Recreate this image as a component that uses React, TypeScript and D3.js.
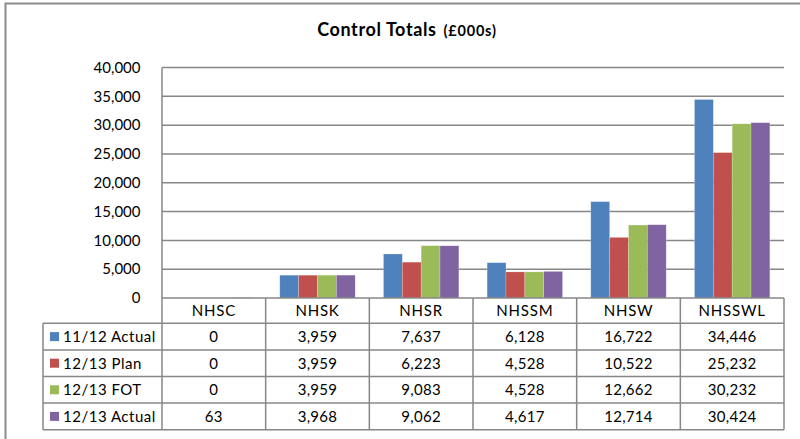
import React from 'react';
import * as d3 from 'd3';

const categories = ['NHSC', 'NHSK', 'NHSR', 'NHSSM', 'NHSW', 'NHSSWL'];
const seriesNames = ['11/12 Actual', '12/13 Plan', '12/13 FOT', '12/13 Actual'];
const actual1112 = [0, 3959, 7637, 6128, 16722, 34446];
const plan1213 = [0, 3959, 6223, 4528, 10522, 25232];
const fot1213 = [0, 3959, 9083, 4528, 12662, 30232];
const actual1213 = [63, 3968, 9062, 4617, 12714, 30424];
const yTicks = [0, 5000, 10000, 15000, 20000, 25000, 30000, 35000, 40000];
const colors = ['#4F81BD', '#C0504D', '#9BBB59', '#8064A2'];

const seriesValues = [actual1112, plan1213, fot1213, actual1213];

const W = 800;
const H = 439;
const plot = { left: 162, right: 784, top: 67.5, bottom: 298 };
const tableLeft = 43;
const headerBottom = 323.3;
const rowH = 26.6;
const font = 'Lato, "Open Sans", sans-serif';
const gridColor = '#878787';

export default function App() {
  const x = d3.scaleBand<string>().domain(categories).range([plot.left, plot.right]);
  // Excel style gap width 150%
  const xInner = d3
    .scaleBand<number>()
    .domain(d3.range(seriesNames.length))
    .range([0, x.bandwidth()])
    .paddingInner(0)
    .paddingOuter(0.75);
  const y = d3.scaleLinear().domain([0, 40000]).range([plot.bottom, plot.top]);
  const fmt = d3.format(',');

  const rowY = (i: number) => headerBottom + i * rowH;
  const tableBottom = rowY(seriesNames.length);

  return (
    <svg
      width={W}
      height={H}
      style={{ position: 'absolute', left: 0, top: 0, display: 'block', background: '#fff' }}
    >
      {/* chart frame, cropped on right and bottom */}
      <rect x={5.5} y={3.5} width={W + 10} height={H + 10} fill="#fff" stroke="#8c8c8c" strokeWidth={2} />

      <text x={407} y={36} textAnchor="middle" fontFamily={font} fontWeight="bold" fill="#000">
        <tspan fontSize={18} letterSpacing={0.6}>Control Totals</tspan>
        <tspan fontSize={14.5} dx={7} letterSpacing={0.8}>(£000s)</tspan>
      </text>

      {/* gridlines */}
      {yTicks.map((t) => (
        <g key={t}>
          {t > 0 && (
            <line x1={plot.left} x2={plot.right} y1={y(t)} y2={y(t)} stroke={gridColor} strokeWidth={1.5} />
          )}
          <text
            x={140.5}
            y={y(t)}
            dy="0.35em"
            textAnchor="end"
            fontFamily={font}
            fontSize={15}
            fill="#000"
          >
            {fmt(t)}
          </text>
        </g>
      ))}
      <line x1={plot.left} x2={plot.left} y1={plot.top} y2={plot.bottom} stroke={gridColor} strokeWidth={1.5} />

      {/* bars */}
      {categories.map((c, ci) => (
        <g key={c} transform={`translate(${x(c)},0)`}>
          {seriesValues.map((vals, si) => (
            <rect
              key={si}
              x={xInner(si)}
              y={y(vals[ci])}
              width={xInner.bandwidth()}
              height={plot.bottom - y(vals[ci])}
              fill={colors[si]}
              stroke="#ffffff"
              strokeOpacity={0.35}
              strokeWidth={0.6}
            />
          ))}
        </g>
      ))}

      {/* data table */}
      <g stroke={gridColor} strokeWidth={1.5} fill="none">
        <line x1={plot.left} x2={plot.right} y1={plot.bottom} y2={plot.bottom} />
        {d3.range(seriesNames.length + 1).map((i) => (
          <line key={i} x1={tableLeft} x2={plot.right} y1={rowY(i)} y2={rowY(i)} />
        ))}
        <line x1={tableLeft} x2={tableLeft} y1={headerBottom} y2={tableBottom} />
        {categories.map((c) => (
          <line key={c} x1={x(c)} x2={x(c)} y1={plot.bottom} y2={tableBottom} />
        ))}
        <line x1={plot.right} x2={plot.right} y1={plot.bottom} y2={tableBottom} />
      </g>

      {categories.map((c) => (
        <text
          key={c}
          x={(x(c) as number) + x.bandwidth() / 2}
          y={(plot.bottom + headerBottom) / 2}
          dy="0.36em"
          textAnchor="middle"
          fontFamily={font}
          fontSize={15}
          letterSpacing={0.8}
          fill="#000"
        >
          {c}
        </text>
      ))}

      {seriesNames.map((name, si) => {
        const cy = rowY(si) + rowH / 2;
        return (
          <g key={name}>
            <rect x={50} y={cy - 4.5} width={9} height={9} fill={colors[si]} />
            <text x={63} y={cy} dy="0.36em" fontFamily={font} fontSize={15} letterSpacing={0.5} fill="#000">
              {name}
            </text>
            {categories.map((c, ci) => (
              <text
                key={c}
                x={(x(c) as number) + x.bandwidth() / 2}
                y={cy}
                dy="0.36em"
                textAnchor="middle"
                fontFamily={font}
                fontSize={15}
                letterSpacing={0.3}
                fill="#000"
              >
                {fmt(seriesValues[si][ci])}
              </text>
            ))}
          </g>
        );
      })}
    </svg>
  );
}
